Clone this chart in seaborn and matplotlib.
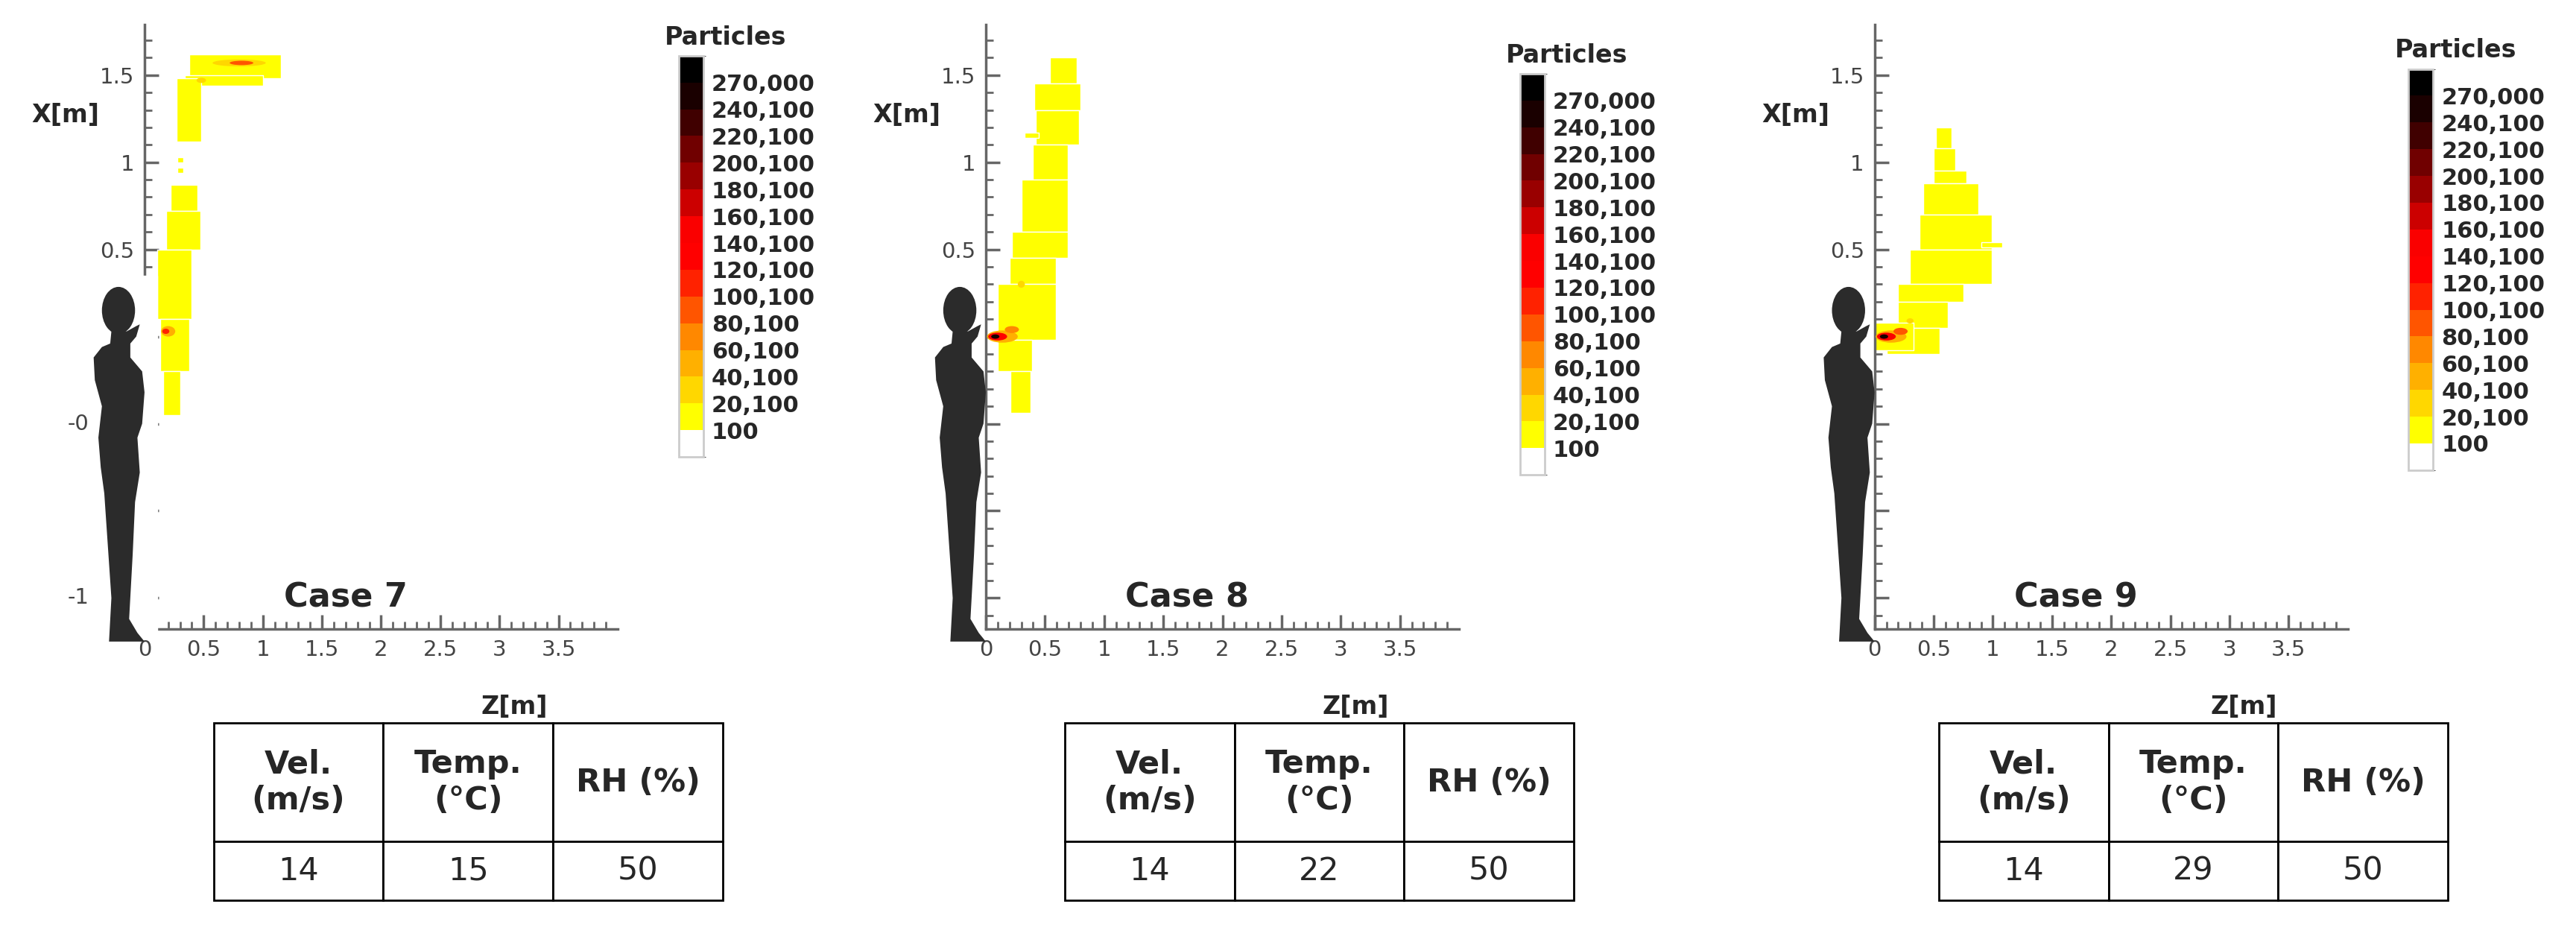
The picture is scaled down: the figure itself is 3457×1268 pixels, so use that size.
import numpy as np
import matplotlib
matplotlib.use("Agg")
import matplotlib.pyplot as plt
import seaborn as sns
from matplotlib.colors import ListedColormap, BoundaryNorm
from matplotlib.cm import ScalarMappable
from matplotlib.patches import Ellipse, Polygon, Rectangle

sns.set_style("white")
plt.rcParams["font.family"] = ["DejaVu Sans"]

# ---- data ----
cases = ["Case 7", "Case 8", "Case 9"]
velocity = [14, 14, 14]
temperature = [15, 22, 29]
humidity = [50, 50, 50]

level_labels = ["100", "20,100", "40,100", "60,100", "80,100", "100,100", "120,100",
                "140,100", "160,100", "180,100", "200,100", "220,100", "240,100", "270,000"]
level_values = [100, 20100, 40100, 60100, 80100, 100100, 120100, 140100,
                160100, 180100, 200100, 220100, 240100, 270000]
level_colors = ["#ffffff", "#ffff00", "#ffd700", "#ffb000", "#ff8800", "#ff5500",
                "#ff2200", "#ff0000", "#fa0000", "#cc0000", "#990000", "#700000",
                "#400000", "#1a0000", "#000000"]

# plume blocks with ~10,100 particles: (x_lo, x_hi, z_lo, z_hi)
plume7 = [(1.48, 1.62, 0.38, 1.15), (1.44, 1.50, 0.34, 1.0), (1.12, 1.48, 0.27, 0.48),
          (1.0, 1.03, 0.28, 0.33), (0.94, 0.97, 0.28, 0.33), (0.72, 0.87, 0.22, 0.45),
          (0.5, 0.72, 0.18, 0.47), (0.1, 0.5, 0.11, 0.40), (-0.2, 0.1, 0.13, 0.38),
          (-0.45, -0.2, 0.16, 0.30)]
plume8 = [(1.45, 1.60, 0.54, 0.77), (1.30, 1.45, 0.41, 0.80), (1.10, 1.30, 0.42, 0.79),
          (1.14, 1.17, 0.33, 0.45), (0.90, 1.10, 0.40, 0.69), (0.60, 0.90, 0.30, 0.69),
          (0.45, 0.60, 0.22, 0.69), (0.30, 0.45, 0.20, 0.59), (-0.02, 0.30, 0.10, 0.59),
          (-0.20, -0.02, 0.10, 0.39), (-0.44, -0.20, 0.21, 0.38)]
plume9 = [(1.08, 1.20, 0.52, 0.65), (0.95, 1.08, 0.50, 0.68), (0.88, 0.95, 0.50, 0.78),
          (0.70, 0.88, 0.41, 0.88), (0.50, 0.70, 0.38, 0.99), (0.51, 0.54, 0.9, 1.08),
          (0.30, 0.50, 0.30, 0.99), (0.20, 0.30, 0.20, 0.75), (0.05, 0.20, 0.20, 0.62),
          (-0.10, 0.05, 0.10, 0.55), (-0.08, 0.08, 0.0, 0.33)]
plumes = [plume7, plume8, plume9]

# hot spots: (z, x, width_z, height_x, particles)
spots7 = [(0.80, 1.57, 0.45, 0.04, 40000), (0.82, 1.57, 0.2, 0.025, 90000),
          (0.48, 1.47, 0.08, 0.03, 40000), (0.20, 0.03, 0.12, 0.06, 60000),
          (0.18, 0.03, 0.06, 0.03, 110000)]
spots8 = [(0.14, 0.0, 0.26, 0.07, 60000), (0.10, 0.0, 0.16, 0.045, 140000),
          (0.08, 0.0, 0.07, 0.025, 250000), (0.22, 0.04, 0.12, 0.04, 80000),
          (0.30, 0.30, 0.06, 0.04, 30000)]
spots9 = [(0.14, 0.0, 0.26, 0.07, 60000), (0.10, 0.0, 0.16, 0.045, 150000),
          (0.08, 0.0, 0.07, 0.025, 260000), (0.22, 0.03, 0.12, 0.04, 90000),
          (0.30, 0.09, 0.06, 0.03, 30000)]
spots = [spots7, spots8, spots9]

z_major = [0, 0.5, 1, 1.5, 2, 2.5, 3, 3.5]
x_major = [-1.5, -1.0, -0.5, 0.0, 0.5, 1.0, 1.5]
x_labels = {1.5: "1.5", 1.0: "1", 0.5: "0.5"}
x_labels_far = {-0.5: "-0", -1.5: "-1"}   # first panel only, left of the figure

cmap = ListedColormap(level_colors)
bounds = [0] + level_values + [300000]
norm = BoundaryNorm(bounds, cmap.N)

fig = plt.figure(figsize=(34.57, 12.68), dpi=100)

ax_left = [0.0561, 0.3827, 0.7277]
cbar_top = [0.941, 0.922, 0.927]
table_left = [0.0829, 0.4133, 0.7526]
W = 0.1837


def human(ax):
    kw = dict(color="#2b2b2b", clip_on=False, zorder=6, lw=0)
    ax.add_patch(Ellipse((-0.22, 0.15), 0.28, 0.27, **kw))
    body = [(-0.07, 0.06), (-0.04, 0.07), (-0.07, 0.0), (-0.12, -0.04), (-0.12, -0.12),
            (-0.02, -0.20), (0.00, -0.32), (-0.02, -0.50), (-0.06, -0.58), (-0.04, -0.78),
            (-0.08, -0.95), (-0.10, -1.25), (-0.13, -1.62), (-0.06, -1.70), (0.0, -1.75),
            (-0.30, -1.75), (-0.28, -1.50), (-0.31, -1.20), (-0.34, -0.90), (-0.37, -0.75),
            (-0.39, -0.58), (-0.36, -0.40), (-0.42, -0.25), (-0.43, -0.12), (-0.36, -0.06),
            (-0.29, -0.04), (-0.28, 0.03), (-0.15, 0.03)]
    ax.add_patch(Polygon(body, closed=True, **kw))


for i in range(3):
    ax = fig.add_axes([ax_left[i], 0.334, W, 0.640])
    ax.set_xlim(0, 4.0)
    ax.set_ylim(-1.68, 1.79)
    sns.despine(ax=ax, top=True, right=True)
    for s in ["left", "bottom"]:
        ax.spines[s].set_color("#666666")
        ax.spines[s].set_linewidth(2.5)

    for (x0, x1, z0, z1) in plumes[i]:
        ax.broken_barh([(z0, z1 - z0)], (x0, x1 - x0), facecolors=cmap(norm(10100)), zorder=2)
    for (zc, xc, wz, hx, val) in spots[i]:
        ax.add_patch(Ellipse((zc, xc), wz, hx, color=cmap(norm(val)), lw=0, zorder=3))

    ax.set_xticks(z_major)
    ax.set_xticklabels([("%g" % v) for v in z_major])
    ax.set_xticks(np.arange(0, 3.95, 0.1), minor=True)
    ax.set_yticks(x_major)
    ax.set_yticklabels([x_labels.get(v, "") for v in x_major])
    ax.set_yticks(np.arange(-1.6, 1.75, 0.1), minor=True)
    ax.tick_params(which="major", direction="in", length=14, width=2.5, color="#666666",
                   labelsize=21, labelcolor="#444444", pad=10)
    ax.tick_params(which="minor", direction="in", length=7, width=2, color="#666666")
    ax.tick_params(axis="y", which="both", left=True)
    ax.tick_params(axis="x", which="both", bottom=True)

    if i == 0:
        ax.add_patch(Rectangle((-0.03, -1.72), 0.135, 2.07, color="white",
                               clip_on=False, zorder=5))
        for v, s in x_labels_far.items():
            ax.text(-0.47, v, s, ha="right", va="center", fontsize=21, color="#444444",
                    clip_on=False, zorder=7)
    human(ax)

    ax.text(1.7, -1.5, cases[i], ha="center", va="center", fontsize=32, fontweight="bold")
    fig.text(ax_left[i] - 0.0306, 0.878, "X[m]", ha="center", va="center",
             fontsize=24, fontweight="bold")
    fig.text(ax_left[i] + 0.1435, 0.252, "Z[m]", ha="center", va="center",
             fontsize=24, fontweight="bold")

    # colour legend
    cax = fig.add_axes([ax_left[i] + 0.2073, cbar_top[i] - 0.4245, 0.0096, 0.4245])
    cb = fig.colorbar(ScalarMappable(norm=norm, cmap=cmap), cax=cax, spacing="uniform",
                      ticks=level_values)
    cb.ax.set_yticklabels(level_labels)
    cb.ax.tick_params(length=0, labelsize=22, pad=8)
    for t in cb.ax.get_yticklabels():
        t.set_fontweight("bold")
    cb.outline.set_edgecolor("#cccccc")
    cb.outline.set_linewidth(2)
    cax.text(1.9, 1.015, "Particles", transform=cax.transAxes, ha="center", va="bottom",
             fontsize=24, fontweight="bold")

    # conditions table
    tax = fig.add_axes([table_left[i], 0.047, 0.1977, 0.188])
    tax.axis("off")
    tb = tax.table(cellText=[["Vel.\n(m/s)", "Temp.\n(\u00b0C)", "RH (%)"],
                             [str(velocity[i]), str(temperature[i]), str(humidity[i])]],
                   cellLoc="center", bbox=[0, 0, 1, 1])
    tb.auto_set_font_size(False)
    for (r, c), cell in tb.get_celld().items():
        cell.set_linewidth(2)
        cell.set_height(0.667 if r == 0 else 0.333)
        cell.get_text().set_fontsize(31)
        if r == 0:
            cell.get_text().set_fontweight("bold")

fig.savefig("out.png", dpi=100)
